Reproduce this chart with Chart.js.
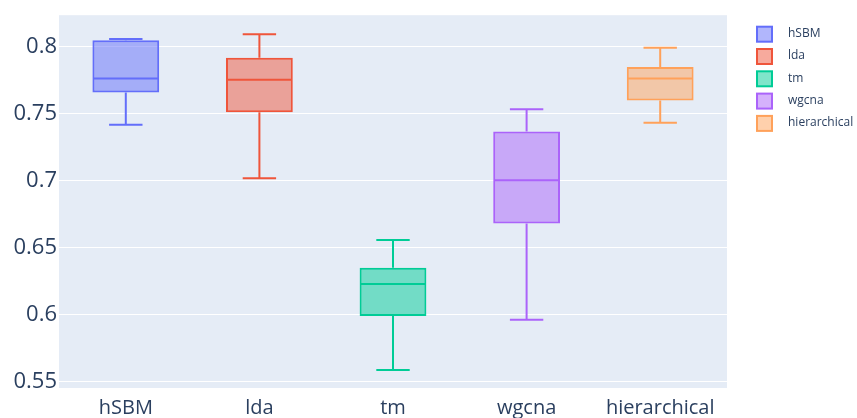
<!DOCTYPE html>
<html lang="en">
<head>
    <meta charset="UTF-8">
    <title>Box plot</title>
    <script src="https://cdn.jsdelivr.net/npm/chart.js"></script>
    <style>
        html, body { margin: 0; padding: 0; background: #fff; }
        .wrap { width: 857px; height: 418px; }
    </style>
</head>
<body>
    <div class="wrap"><canvas id="boxChart" width="857" height="418"></canvas></div>
    <script>
        // valores
        const categories = ['hSBM', 'lda', 'tm', 'wgcna', 'hierarchical'];
        const lowerWhisker = [0.742, 0.702, 0.559, 0.5965, 0.7434];
        const q1 = [0.766, 0.7513, 0.5992, 0.6682, 0.760];
        const medians = [0.7765, 0.7755, 0.6232, 0.7006, 0.7765];
        const q3 = [0.805, 0.792, 0.6353, 0.737, 0.785];
        const upperWhisker = [0.806, 0.8094, 0.656, 0.7535, 0.7995];
        const yTicks = [0.55, 0.6, 0.65, 0.7, 0.75, 0.8];
        const yTickLabels = ['0.55', '0.6', '0.65', '0.7', '0.75', '0.8'];

        const colors = ['#636efa', '#EF553B', '#00cc96', '#ab63fa', '#FFA15A'];
        const fills = ['rgba(99,110,250,0.5)', 'rgba(239,85,59,0.5)', 'rgba(0,204,150,0.5)', 'rgba(171,99,250,0.5)', 'rgba(255,161,90,0.5)'];
        const fontFamily = '"Open Sans", Verdana, Arial, sans-serif';
        const textColor = '#2a3f5f';

        const datasets = categories.map((name, i) => ({
            label: name,
            data: categories.map((c, j) => j === i ? [q1[i], q3[i]] : null),
            backgroundColor: fills[i],
            borderColor: colors[i],
            borderWidth: 2,
            borderSkipped: false,
            grouped: false,
            barPercentage: 0.5,
            categoryPercentage: 1
        }));

        const plotBg = {
            id: 'plotBg',
            beforeDraw(chart) {
                const a = chart.chartArea, ctx = chart.ctx;
                ctx.save();
                ctx.fillStyle = '#E5ECF6';
                ctx.fillRect(a.left, a.top, a.right - a.left, a.bottom - a.top);
                ctx.restore();
            }
        };

        // bigodes e mediana
        const whiskers = {
            id: 'whiskers',
            afterDatasetsDraw(chart) {
                const ctx = chart.ctx, x = chart.scales.x, y = chart.scales.y;
                categories.forEach((c, i) => {
                    const bar = chart.getDatasetMeta(i).data[i];
                    if (!bar) return;
                    const cx = x.getPixelForValue(i);
                    const half = bar.width / 2;
                    ctx.save();
                    ctx.strokeStyle = colors[i];
                    ctx.lineWidth = 2;
                    ctx.beginPath();
                    const ym = y.getPixelForValue(medians[i]);
                    ctx.moveTo(cx - half + 1, ym); ctx.lineTo(cx + half - 1, ym);
                    const yu = y.getPixelForValue(upperWhisker[i]);
                    ctx.moveTo(cx, y.getPixelForValue(q3[i])); ctx.lineTo(cx, yu);
                    ctx.moveTo(cx - half / 2, yu); ctx.lineTo(cx + half / 2, yu);
                    const yl = y.getPixelForValue(lowerWhisker[i]);
                    ctx.moveTo(cx, y.getPixelForValue(q1[i])); ctx.lineTo(cx, yl);
                    ctx.moveTo(cx - half / 2, yl); ctx.lineTo(cx + half / 2, yl);
                    ctx.stroke();
                    ctx.restore();
                });
            }
        };

        // legenda no estilo plotly, a direita da area do grafico
        const sideLegend = {
            id: 'sideLegend',
            afterDraw(chart) {
                const ctx = chart.ctx, a = chart.chartArea;
                ctx.save();
                ctx.font = '12px ' + fontFamily;
                ctx.textBaseline = 'middle';
                categories.forEach((name, i) => {
                    const bx = a.right + 30, cy = a.top + 18.5 + i * 22.3;
                    ctx.fillStyle = fills[i];
                    ctx.fillRect(bx, cy - 7, 15, 15);
                    ctx.strokeStyle = colors[i];
                    ctx.lineWidth = 2;
                    ctx.strokeRect(bx, cy - 7, 15, 15);
                    ctx.fillStyle = textColor;
                    ctx.fillText(name, bx + 31, cy);
                });
                ctx.restore();
            }
        };

        const ctx = document.getElementById('boxChart').getContext('2d');
        new Chart(ctx, {
            type: 'bar',
            data: { labels: categories, datasets: datasets },
            plugins: [plotBg, whiskers, sideLegend],
            options: {
                responsive: false,
                animation: false,
                layout: { padding: { top: 13, left: 0, right: 130, bottom: 0 } },
                plugins: {
                    tooltip: { enabled: false },
                    legend: { display: false }
                },
                scales: {
                    x: {
                        grid: { display: false },
                        border: { display: false },
                        ticks: { color: textColor, font: { family: fontFamily, size: 20 }, padding: 0 },
                        afterFit(axis) { axis.height = 30; }
                    },
                    y: {
                        min: 0.5455,
                        max: 0.8237,
                        grid: { color: '#ffffff', lineWidth: 1, drawTicks: false },
                        border: { display: false },
                        afterBuildTicks(axis) { axis.ticks = yTicks.map(v => ({ value: v })); },
                        ticks: {
                            color: textColor,
                            font: { family: fontFamily, size: 22 },
                            padding: 2,
                            callback: (v) => yTickLabels[yTicks.indexOf(v)] ?? ''
                        },
                        afterFit(axis) { axis.width = 59; }
                    }
                }
            }
        });
    </script>
</body>
</html>
